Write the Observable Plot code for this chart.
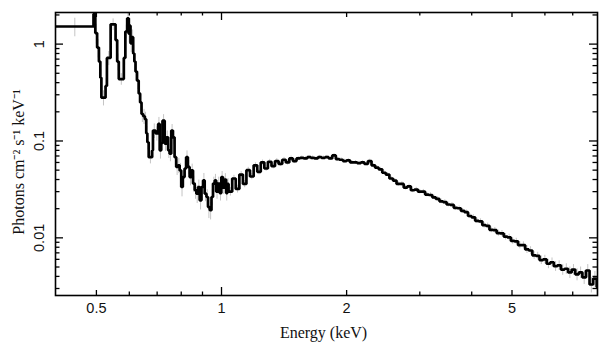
<!DOCTYPE html>
<html><head><meta charset="utf-8">
<script src="https://cdn.jsdelivr.net/npm/d3@7"></script>
<script src="https://cdn.jsdelivr.net/npm/@observablehq/plot@0.6"></script>
<style>body{margin:0;background:#fff}</style>
</head><body><div id="chart"></div>
<script>
// Bin lower edges (keV); last bin upper edge given separately
const binLo = [
  0.400,0.492,0.497,0.502,0.507,0.511,0.514,0.526,0.530,0.541,
  0.556,0.561,0.566,0.582,0.587,0.593,0.598,0.601,0.604,0.609,
  0.613,0.617,0.621,0.626,0.632,0.637,0.642,0.648,0.654,0.659,
  0.663,0.668,0.681,0.684,0.694,0.704,0.710,0.716,0.721,0.730,
  0.737,0.744,0.750,0.757,0.764,0.771,0.778,0.786,0.793,0.800,
  0.807,0.815,0.822,0.830,0.838,0.846,0.854,0.862,0.870,0.878,
  0.886,0.895,0.903,0.911,0.920,0.928,0.937,0.946,0.954,0.963,
  0.971,0.980,0.990,0.999,1.008,1.017,1.026,1.033,
  1.040,1.061,1.082,1.104,1.126,1.148,1.171,1.195,1.219,1.243,
  1.268,1.293,1.319,1.345,1.372,1.400,1.428,1.456,1.485,1.515,
  1.545,1.576,1.608,1.640,1.673,1.706,1.740,1.775,1.811,1.847,
  1.884,1.921,1.960,1.999,2.039,2.080,2.121,2.164,2.207,2.251,
  2.296,2.342,2.389,2.437,2.485,2.535,2.586,2.637,2.690,2.744,
  2.799,2.855,2.912,2.970,3.029,3.090,3.152,3.215,3.279,3.345,
  3.412,3.480,3.550,3.621,3.693,3.767,3.842,3.919,3.997,4.077,
  4.159,4.242,4.327,4.413,4.502,4.592,4.683,4.777,4.873,4.970,
  5.069,5.171,5.274,5.380,5.487,5.597,5.709,5.823,5.940,6.058,
  6.180,6.303,6.429,6.558,6.689,6.823,6.959,7.099,7.241,7.385,
  7.533,7.684,7.838,7.994
];
const binHiLast = 8.05;

// Photons cm^-2 s^-1 keV^-1
const flux = [
  1.52,2.05,1.30,0.92,0.66,0.45,0.28,0.37,0.72,1.60,
  1.10,0.66,0.436,0.72,1.35,1.85,1.28,1.55,1.02,1.18,
  0.80,0.66,0.52,0.42,0.31,0.25,0.190,0.180,0.168,0.120,
  0.097,0.068,0.080,0.128,0.120,0.150,0.080,0.095,0.162,0.094,
  0.109,0.080,0.074,0.128,0.109,0.068,0.054,0.056,0.0497,0.0335,
  0.0424,0.052,0.068,0.054,0.0424,0.0497,0.0363,0.031,0.0286,0.0335,
  0.0244,0.0335,0.0392,0.0286,0.0264,0.0208,0.0193,0.0264,0.0363,0.0392,
  0.030,0.0363,0.029,0.0424,0.033,0.040,0.029,0.036,
  0.030,0.041,0.032,0.045,0.036,0.050,0.043,0.056,0.048,0.060,
  0.052,0.061,0.055,0.062,0.058,0.064,0.060,0.066,0.062,0.066,
  0.067,0.066,0.068,0.067,0.066,0.068,0.067,0.068,0.066,0.071,
  0.065,0.064,0.062,0.063,0.060,0.060,0.059,0.060,0.058,0.062,
  0.056,0.053,0.051,0.047,0.045,0.041,0.039,0.036,0.036,0.033,
  0.034,0.031,0.0315,0.030,0.0300,0.0280,0.0277,0.0262,0.0252,0.0238,
  0.0234,0.0221,0.0219,0.0204,0.0202,0.0190,0.0184,0.0168,0.0163,0.0150,
  0.0148,0.0135,0.0133,0.0121,0.0120,0.0112,0.0111,0.0103,0.0101,0.0093,
  0.0092,0.0084,0.0084,0.0076,0.0074,0.0066,0.0065,0.0059,0.0060,0.0054,
  0.0056,0.0051,0.0052,0.0047,0.0048,0.0044,0.0047,0.0042,0.0044,0.0039,
  0.0046,0.0033,0.0038,0.0031
];

// 1-sigma errors
const fluxErr = [
  0.33,0.45,0.30,0.20,0.15,0.10,0.05,0.07,0.12,0.22,
  0.20,0.13,0.06,0.12,0.22,0.30,0.25,0.28,0.20,0.22,
  0.16,0.13,0.10,0.08,0.06,0.05,0.035,0.032,0.030,0.022,
  0.016,0.010,0.014,0.022,0.020,0.025,0.015,0.017,0.025,0.016,
  0.018,0.014,0.013,0.020,0.018,0.012,0.010,0.010,0.009,0.007,
  0.008,0.009,0.011,0.009,0.008,0.008,0.007,0.006,0.006,0.006,
  0.005,0.006,0.007,0.005,0.005,0.005,0.004,0.005,0.006,0.006,
  0.005,0.006,0.005,0.006,0.005,0.006,0.005,0.005,
  0.0030,0.0032,0.0030,0.0033,0.0031,0.0034,0.0032,0.0035,0.0033,0.0036,
  0.0034,0.0036,0.0035,0.0037,0.0035,0.0037,0.0036,0.0038,0.0036,0.0030,
  0.0030,0.0030,0.0029,0.0030,0.0029,0.0030,0.0029,0.0030,0.0029,0.0031,
  0.0029,0.0029,0.0028,0.0028,0.0027,0.0028,0.0027,0.0027,0.0026,0.0028,
  0.0026,0.0025,0.0024,0.0023,0.0022,0.0021,0.0020,0.0019,0.0019,0.0018,
  0.0018,0.0017,0.0017,0.0016,0.0016,0.0015,0.0015,0.0014,0.0014,0.0013,
  0.0013,0.0012,0.0012,0.0011,0.0011,0.0011,0.0010,0.0010,0.0010,0.0009,
  0.0009,0.0009,0.0009,0.0008,0.0008,0.0008,0.0008,0.0008,0.0008,0.0007,
  0.0007,0.0007,0.0007,0.0007,0.0007,0.0006,0.0006,0.0006,0.0006,0.0006,
  0.0006,0.0006,0.0006,0.0006,0.0006,0.0006,0.0006,0.0006,0.0006,0.0006,
  0.0007,0.0006,0.0007,0.0007
];

// Axis ticks
const xLabelTicks = [0.5, 1, 2, 5];
const xDecadeTicks = [1];
const xMidTicks = [0.5, 2, 5];
const xMinorTicks = [0.6, 0.7, 0.8, 0.9, 3, 4, 6, 7];
const yLabelTicks = [0.01, 0.1, 1];
const yMinorTicks = [0.003,0.004,0.005,0.006,0.007,0.008,0.009,
  0.02,0.03,0.04,0.05,0.06,0.07,0.08,0.09,
  0.2,0.3,0.4,0.5,0.6,0.7,0.8,0.9,2];
const xTitle = "Energy (keV)";
const yTitle = "Photons cm\u207B\u00B2 s\u207B\u00B9 keV\u207B\u00B9";

const W = 609, H = 357, mL = 55, mR = 12, mT = 12, mB = 62;
const FW = W - mL - mR, FH = H - mT - mB;

const bins = binLo.map((lo, i) => ({
  lo, hi: i < binLo.length - 1 ? binLo[i + 1] : binHiLast,
  v: flux[i], e: fluxErr[i]
}));
const stepPts = bins.flatMap(b => [{x: b.lo, y: b.v}, {x: b.hi, y: b.v}]);

const sans = "Liberation Sans, Arial, Helvetica, sans-serif";
const serif = "Liberation Serif, Times New Roman, serif";
const tk = {stroke: "black", strokeWidth: 1.3};

const chart = Plot.plot({
  width: W, height: H,
  marginLeft: mL, marginRight: mR, marginTop: mT, marginBottom: mB,
  x: {type: "log", domain: [0.3986, 8.03], axis: null},
  y: {type: "log", domain: [0.00254, 2.12], axis: null},
  marks: [
    Plot.ruleX(bins, {x: d => Math.sqrt(d.lo * d.hi), y1: d => Math.max(d.v - d.e, 0.0026), y2: d => d.v + d.e, stroke: "#c4c4c4", strokeWidth: 1, clip: true}),
    Plot.line(stepPts, {x: "x", y: "y", stroke: "black", strokeWidth: 2.7, strokeLinejoin: "miter", strokeLinecap: "square", clip: true}),
    // bottom & top ticks
    Plot.tickX(xDecadeTicks, {x: d => d, insetTop: FH - 8, ...tk}),
    Plot.tickX(xDecadeTicks, {x: d => d, insetBottom: FH - 8, ...tk}),
    Plot.tickX(xMidTicks, {x: d => d, insetTop: FH - 5, ...tk}),
    Plot.tickX(xMidTicks, {x: d => d, insetBottom: FH - 5, ...tk}),
    Plot.tickX(xMinorTicks, {x: d => d, insetTop: FH - 3.5, ...tk}),
    Plot.tickX(xMinorTicks, {x: d => d, insetBottom: FH - 3.5, ...tk}),
    // left & right ticks
    Plot.tickY(yLabelTicks, {y: d => d, insetRight: FW - 8, ...tk}),
    Plot.tickY(yLabelTicks, {y: d => d, insetLeft: FW - 8, ...tk}),
    Plot.tickY(yMinorTicks, {y: d => d, insetRight: FW - 4.5, ...tk}),
    Plot.tickY(yMinorTicks, {y: d => d, insetLeft: FW - 4.5, ...tk}),
    Plot.frame({stroke: "black", strokeWidth: 1.6}),
    // tick labels
    Plot.text(xLabelTicks, {x: d => d, frameAnchor: "bottom", dy: 13, lineAnchor: "middle", textAnchor: "middle", text: d => String(d), fontSize: 14.5, fontFamily: sans, fill: "#111"}),
    Plot.text(yLabelTicks, {y: d => d, frameAnchor: "left", dx: -16, rotate: -90, lineAnchor: "middle", textAnchor: "middle", text: d => String(d), fontSize: 14.5, fontFamily: sans, fill: "#111"}),
    // axis titles
    Plot.text([xTitle], {frameAnchor: "bottom", dx: -3, dy: 37, lineAnchor: "middle", textAnchor: "middle", text: d => d, fontSize: 16, fontFamily: serif, fill: "#111"}),
    Plot.text([yTitle], {frameAnchor: "left", dx: -37, dy: 8, rotate: -90, lineAnchor: "middle", textAnchor: "middle", text: d => d, fontSize: 16, fontFamily: serif, fill: "#111"})
  ]
});
document.getElementById("chart").appendChild(chart);
</script>
</body></html>
